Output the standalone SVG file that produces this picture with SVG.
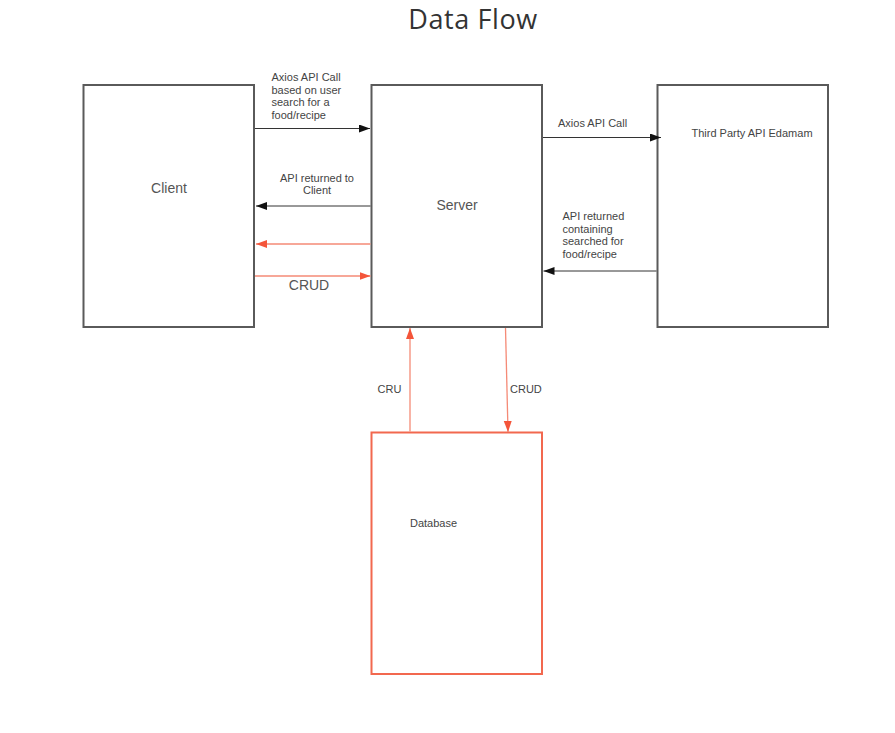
<svg xmlns="http://www.w3.org/2000/svg" width="895" height="733" viewBox="0 0 895 733">
<defs>
<marker id="ab" markerUnits="userSpaceOnUse" markerWidth="12" markerHeight="10" refX="11" refY="4" orient="auto">
<path d="M0,0 L11,4 L0,8 Z" fill="#111"/>
</marker>
<marker id="ar" markerUnits="userSpaceOnUse" markerWidth="12" markerHeight="10" refX="11" refY="4" orient="auto">
<path d="M0,0 L11,4 L0,8 Z" fill="#f4553a"/>
</marker>
</defs>
<style>
.box{fill:#fff;stroke:#5a5a5a;stroke-width:2}
.dbbox{fill:#fff;stroke:#f2684f;stroke-width:2}
.t{font-family:"Liberation Sans",Arial,sans-serif;font-size:11px;fill:#444}
.tl{font-family:"Liberation Sans",Arial,sans-serif;font-size:14px;fill:#555}
.bl{stroke:#333;stroke-width:1;fill:none;marker-end:url(#ab)}
.rd{stroke:#f58a76;stroke-width:1.3;fill:none;marker-end:url(#ar)}
</style>
<rect width="895" height="733" fill="#fff"/>
<text x="473" y="29" text-anchor="middle" font-family="'Open Sans',sans-serif" font-size="27" letter-spacing="0.6" fill="#333">Data Flow</text>
<g id="client">
<rect class="box" x="83.5" y="85" width="170.5" height="242"/>
<text class="tl" x="169" y="192.5" text-anchor="middle">Client</text>
</g>
<g id="server">
<rect class="box" x="371.5" y="85" width="170.5" height="242"/>
<text class="tl" x="457" y="210" text-anchor="middle">Server</text>
</g>
<g id="thirdparty">
<rect class="box" x="657.5" y="85" width="170.5" height="242"/>
<text class="t" x="691.5" y="137">Third Party API Edamam</text>
</g>
<g id="database">
<rect class="dbbox" x="371.5" y="432.5" width="170.5" height="241.5"/>
<text class="t" x="410" y="527">Database</text>
</g>
<g id="connectors">
<line class="bl" x1="255" y1="128.5" x2="370" y2="128.5"/>
<text class="t" x="271.5" y="81">Axios API Call</text>
<text class="t" x="271.5" y="93.7">based on user</text>
<text class="t" x="271.5" y="106.4">search for a</text>
<text class="t" x="271.5" y="119">food/recipe</text>
<line class="bl" x1="370.5" y1="206" x2="256" y2="206"/>
<text class="t" x="317" y="181.5" text-anchor="middle">API returned to</text>
<text class="t" x="317" y="193.5" text-anchor="middle">Client</text>
<line class="rd" x1="370.5" y1="244" x2="256" y2="244"/>
<line class="rd" x1="255" y1="276" x2="370.5" y2="276"/>
<text class="tl" x="309" y="290" text-anchor="middle">CRUD</text>
<line class="bl" x1="543" y1="137.5" x2="661" y2="137.5"/>
<text class="t" x="558" y="126.5">Axios API Call</text>
<line class="bl" x1="656.5" y1="271" x2="543.5" y2="271"/>
<text class="t" x="562.5" y="220">API returned</text>
<text class="t" x="562.5" y="232.5">containing</text>
<text class="t" x="562.5" y="245">searched for</text>
<text class="t" x="562.5" y="257.5">food/recipe</text>
<line class="rd" x1="410" y1="431.5" x2="410" y2="328"/>
<text class="t" x="377.5" y="393">CRU</text>
<line class="rd" x1="505.5" y1="328" x2="508" y2="432"/>
<text class="t" x="510" y="393">CRUD</text>
</g>
</svg>
